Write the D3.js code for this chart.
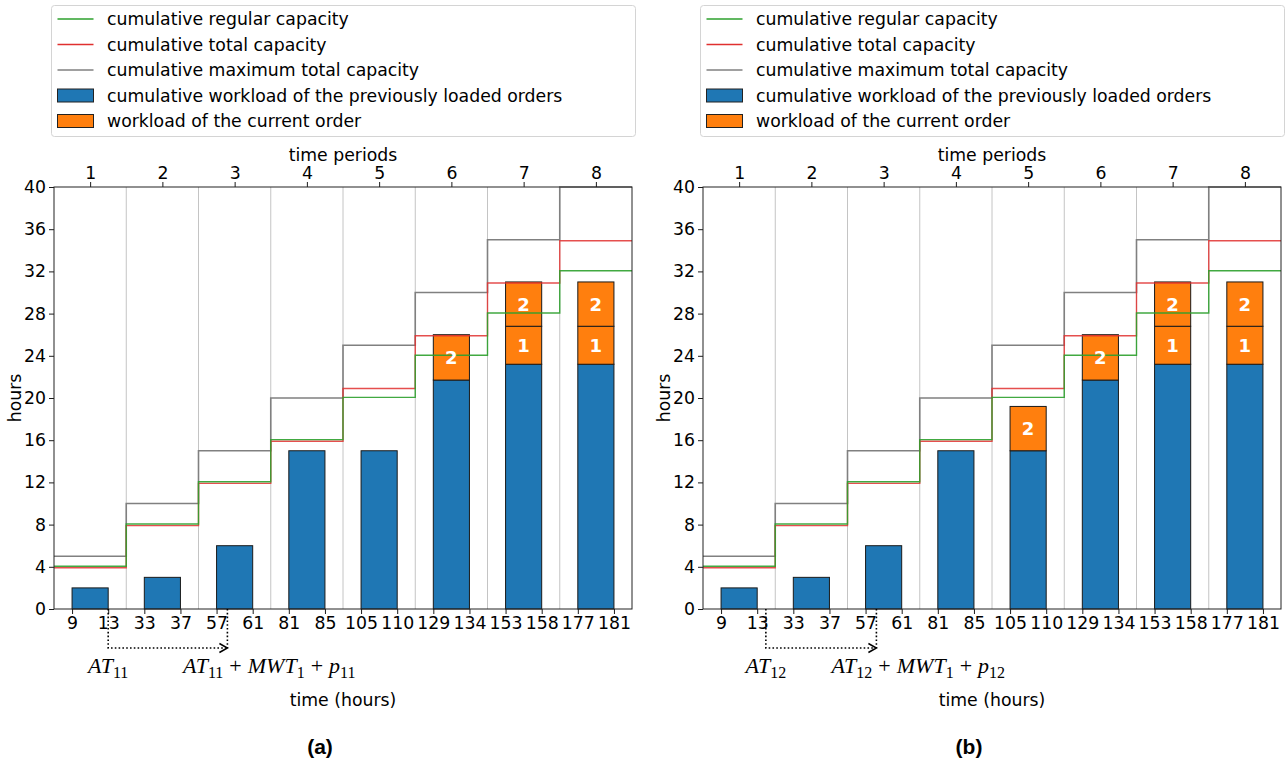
<!DOCTYPE html>
<html>
<head>
<meta charset="utf-8">
<script src="https://cdn.jsdelivr.net/npm/d3@7/dist/d3.min.js"></script>
<style>
  html, body { margin: 0; padding: 0; background: #fff; }
  svg { display: block; }
  text { font-family: "DejaVu Sans", sans-serif; fill: #000; }
</style>
</head>
<body>
<svg id="chart" width="1285" height="762"></svg>
<script>
// ---- data ----
const periods = [1, 2, 3, 4, 5, 6, 7, 8];
const hourTicks = ["9", "13", "33", "37", "57", "61", "81", "85", "105", "110", "129", "134", "153", "158", "177", "181"];
const yTicks = [0, 4, 8, 12, 16, 20, 24, 28, 32, 36, 40];

const regularCapacity = [4, 8, 12, 16, 20, 24, 28, 32];
const totalCapacity = [4, 8, 12, 16, 21, 26, 31, 35];
const maxTotalCapacity = [5, 10, 15, 20, 25, 30, 35, 40];

// panel (a)
const previousLoadA = [2, 3, 6, 15, 15, 21.7, 23.2, 23.2];
const currentOp1A = [0, 0, 0, 0, 0, 0, 3.6, 3.6];
const currentOp2A = [0, 0, 0, 0, 0, 4.3, 4.2, 4.2];
// panel (b)
const previousLoadB = [2, 3, 6, 15, 15, 21.7, 23.2, 23.2];
const currentOp1B = [0, 0, 0, 0, 0, 0, 3.6, 3.6];
const currentOp2B = [0, 0, 0, 0, 4.2, 4.3, 4.2, 4.2];

// arrival / due markers on the period axis
const arrivalA = 1.25, dueA = 2.90;
const arrivalB = 1.37, dueB = 2.90;

const legendLabels = [
  "cumulative regular capacity",
  "cumulative total capacity",
  "cumulative maximum total capacity",
  "cumulative workload of the previously loaded orders",
  "workload of the current order"
];

const C = {
  blue: "#1f77b4", orange: "#ff7f0e", green: "#2ca02c",
  red: "#e0302f", gray: "#808080", sep: "#c4c4c4"
};
const FS = 17.3;

const svg = d3.select("#chart");

// math-style label: italic symbols, upright subscripts and operators
function mathLabel(g, x, y, parts) {
  const t = g.append("text")
    .attr("x", x).attr("y", y)
    .attr("text-anchor", "middle")
    .style("font-family", "'Liberation Serif', serif")
    .style("font-size", "22px");
  let lowered = false;
  parts.forEach(p => {
    const ts = t.append("tspan").text(p.t);
    if (p.i) ts.style("font-style", "italic");
    let dy = 0;
    if (p.sub) { ts.style("font-size", "16px"); if (!lowered) { dy = 5; lowered = true; } }
    else if (lowered) { dy = -5; lowered = false; }
    if (dy) ts.attr("dy", dy);
    if (p.op) ts.attr("dx", 6);
    if (p.after) ts.attr("dx", 6);
  });
  return t;
}

function drawPanel(opt) {
  const { x0, x1, prev, op1, op2, arrival, due, sub, tag } = opt;
  const x = d3.scaleLinear().domain([0.5, 8.5]).range([x0, x1]);
  const y = d3.scaleLinear().domain([0, 40]).range([609, 187]);
  const g = svg.append("g");

  // legend
  const lg = g.append("g");
  lg.append("rect")
    .attr("x", x0 - 2.5).attr("y", 5.5)
    .attr("width", x1 - x0 + 6).attr("height", 131)
    .attr("rx", 3).attr("fill", "#fff")
    .attr("stroke", "#d4d4d4").attr("stroke-width", 1);
  const rowsY = [19, 44.5, 70, 95.5, 121];
  const hx0 = x0 + 3.5, hx1 = x0 + 39.5;
  [C.green, C.red, C.gray].forEach((c, i) => {
    lg.append("line").attr("x1", hx0).attr("x2", hx1)
      .attr("y1", rowsY[i]).attr("y2", rowsY[i])
      .attr("stroke", c).attr("stroke-width", 1.3);
  });
  [C.blue, C.orange].forEach((c, i) => {
    lg.append("rect").attr("x", hx0).attr("y", rowsY[3 + i] - 6.5)
      .attr("width", hx1 - hx0).attr("height", 13)
      .attr("fill", c).attr("stroke", "#222").attr("stroke-width", 1);
  });
  legendLabels.forEach((s, i) => {
    lg.append("text").attr("x", x0 + 53).attr("y", rowsY[i] + 6)
      .style("font-size", FS + "px").text(s);
  });

  // period separators
  g.selectAll(".sep").data(periods.slice(0, -1)).enter().append("line")
    .attr("x1", d => x(d + 0.5)).attr("x2", d => x(d + 0.5))
    .attr("y1", y(0)).attr("y2", y(40))
    .attr("stroke", C.sep).attr("stroke-width", 1);

  // bars
  const bw = 0.25;
  g.selectAll(".prev").data(prev).enter().append("rect")
    .attr("x", (d, i) => x(periods[i] - bw)).attr("width", x(1 + bw) - x(1 - bw))
    .attr("y", d => y(d)).attr("height", d => y(0) - y(d))
    .attr("fill", C.blue).attr("stroke", "#1a1a1a").attr("stroke-width", 1);

  const segs = [];
  periods.forEach((p, i) => {
    let base = prev[i];
    if (op1[i] > 0) { segs.push({ p, b: base, h: op1[i], lab: "1" }); base += op1[i]; }
    if (op2[i] > 0) { segs.push({ p, b: base, h: op2[i], lab: "2" }); base += op2[i]; }
  });
  g.selectAll(".cur").data(segs).enter().append("rect")
    .attr("x", d => x(d.p - bw)).attr("width", x(1 + bw) - x(1 - bw))
    .attr("y", d => y(d.b + d.h)).attr("height", d => y(d.b) - y(d.b + d.h))
    .attr("fill", C.orange).attr("stroke", "#1a1a1a").attr("stroke-width", 1);

  // capacity step lines
  const step = d3.line().x(d => x(d[0])).y(d => y(d[1])).curve(d3.curveStepAfter);
  const pts = vals => vals.map((v, i) => [periods[i] - 0.5, v]).concat([[8.5, vals[vals.length - 1]]]);
  g.append("path").attr("d", step(pts(maxTotalCapacity)))
    .attr("fill", "none").attr("stroke", C.gray).attr("stroke-width", 1.6);
  g.append("path").attr("d", step(pts(totalCapacity)))
    .attr("transform", "translate(0,1)")
    .attr("fill", "none").attr("stroke", C.red).attr("stroke-width", 1.4).attr("stroke-opacity", 0.85);
  g.append("path").attr("d", step(pts(regularCapacity)))
    .attr("transform", "translate(0,-0.6)")
    .attr("fill", "none").attr("stroke", C.green).attr("stroke-width", 1.4).attr("stroke-opacity", 0.9);

  // labels inside current-order segments
  g.selectAll(".lab").data(segs).enter().append("text")
    .attr("x", d => x(d.p)).attr("y", d => y(d.b + d.h / 2) + 6.5)
    .attr("text-anchor", "middle")
    .style("font-weight", "bold").style("font-size", "18px").style("fill", "#fff")
    .text(d => d.lab);

  // axes
  const styleAxis = a => {
    a.selectAll("text").style("font-family", "'DejaVu Sans', sans-serif").style("font-size", FS + "px").attr("fill", "#000");
    a.selectAll("line").attr("stroke", "#000").attr("stroke-width", 0.9);
    a.select(".domain").remove();
  };
  const ay = g.append("g").attr("transform", `translate(${x0},0)`)
    .call(d3.axisLeft(y).tickValues(yTicks).tickSize(5).tickPadding(3).tickSizeOuter(0));
  styleAxis(ay);
  const edges = [];
  periods.forEach(p => { edges.push(p - bw, p + bw); });
  const ab = g.append("g").attr("transform", `translate(0,${y(0)})`)
    .call(d3.axisBottom(x).tickValues(edges).tickFormat((d, i) => hourTicks[i]).tickSize(5).tickPadding(3).tickSizeOuter(0));
  styleAxis(ab);
  const at = g.append("g").attr("transform", `translate(0,${y(40)})`)
    .call(d3.axisTop(x).tickValues(periods).tickFormat(d3.format("d")).tickSize(5).tickPadding(3).tickSizeOuter(0));
  styleAxis(at);

  // spines
  g.append("rect").attr("x", x0).attr("y", y(40))
    .attr("width", x1 - x0).attr("height", y(0) - y(40))
    .attr("fill", "none").attr("stroke", "#222").attr("stroke-width", 1);

  // axis titles
  const cx = (x0 + x1) / 2;
  g.append("text").attr("x", cx).attr("y", 161).attr("text-anchor", "middle")
    .style("font-size", FS + "px").text("time periods");
  g.append("text").attr("x", cx).attr("y", 706).attr("text-anchor", "middle")
    .style("font-size", FS + "px").text("time (hours)");
  g.append("text").attr("transform", `translate(${x0 - 33},${y(20)}) rotate(-90)`)
    .attr("text-anchor", "middle")
    .style("font-size", FS + "px").text("hours");
  g.append("text").attr("x", cx - 23).attr("y", 754).attr("text-anchor", "middle")
    .style("font-family", "'Liberation Sans', Arial, sans-serif")
    .style("font-weight", "bold").style("font-size", "21px").text(tag);

  // arrival -> due arrow
  const ax1 = x(arrival), ax2 = x(due), ayl = 648;
  g.append("path")
    .attr("d", `M${ax1},${y(0)} V${ayl} H${ax2 - 1} M${ax2},${y(0)} V${ayl}`)
    .attr("fill", "none").attr("stroke", "#000").attr("stroke-width", 1.6)
    .attr("stroke-dasharray", "1.6,2.2");
  g.append("path")
    .attr("d", `M${ax2 - 8},${ayl - 4.5} L${ax2},${ayl} L${ax2 - 8},${ayl + 4.5}`)
    .attr("fill", "none").attr("stroke", "#000").attr("stroke-width", 1.5);

  mathLabel(g, ax1, 673, [{ t: "AT", i: true }, { t: sub, sub: true }]);
  mathLabel(g, x(3.48), 673, [
    { t: "AT", i: true }, { t: sub, sub: true }, { t: "+", op: true },
    { t: "MWT", i: true, after: true }, { t: "1", sub: true }, { t: "+", op: true },
    { t: "p", i: true, after: true }, { t: sub, sub: true }
  ]);
}

drawPanel({ x0: 54, x1: 632, prev: previousLoadA, op1: currentOp1A, op2: currentOp2A,
  arrival: arrivalA, due: dueA, sub: "11", tag: "(a)" });
drawPanel({ x0: 703, x1: 1281, prev: previousLoadB, op1: currentOp1B, op2: currentOp2B,
  arrival: arrivalB, due: dueB, sub: "12", tag: "(b)" });
</script>
</body>
</html>
